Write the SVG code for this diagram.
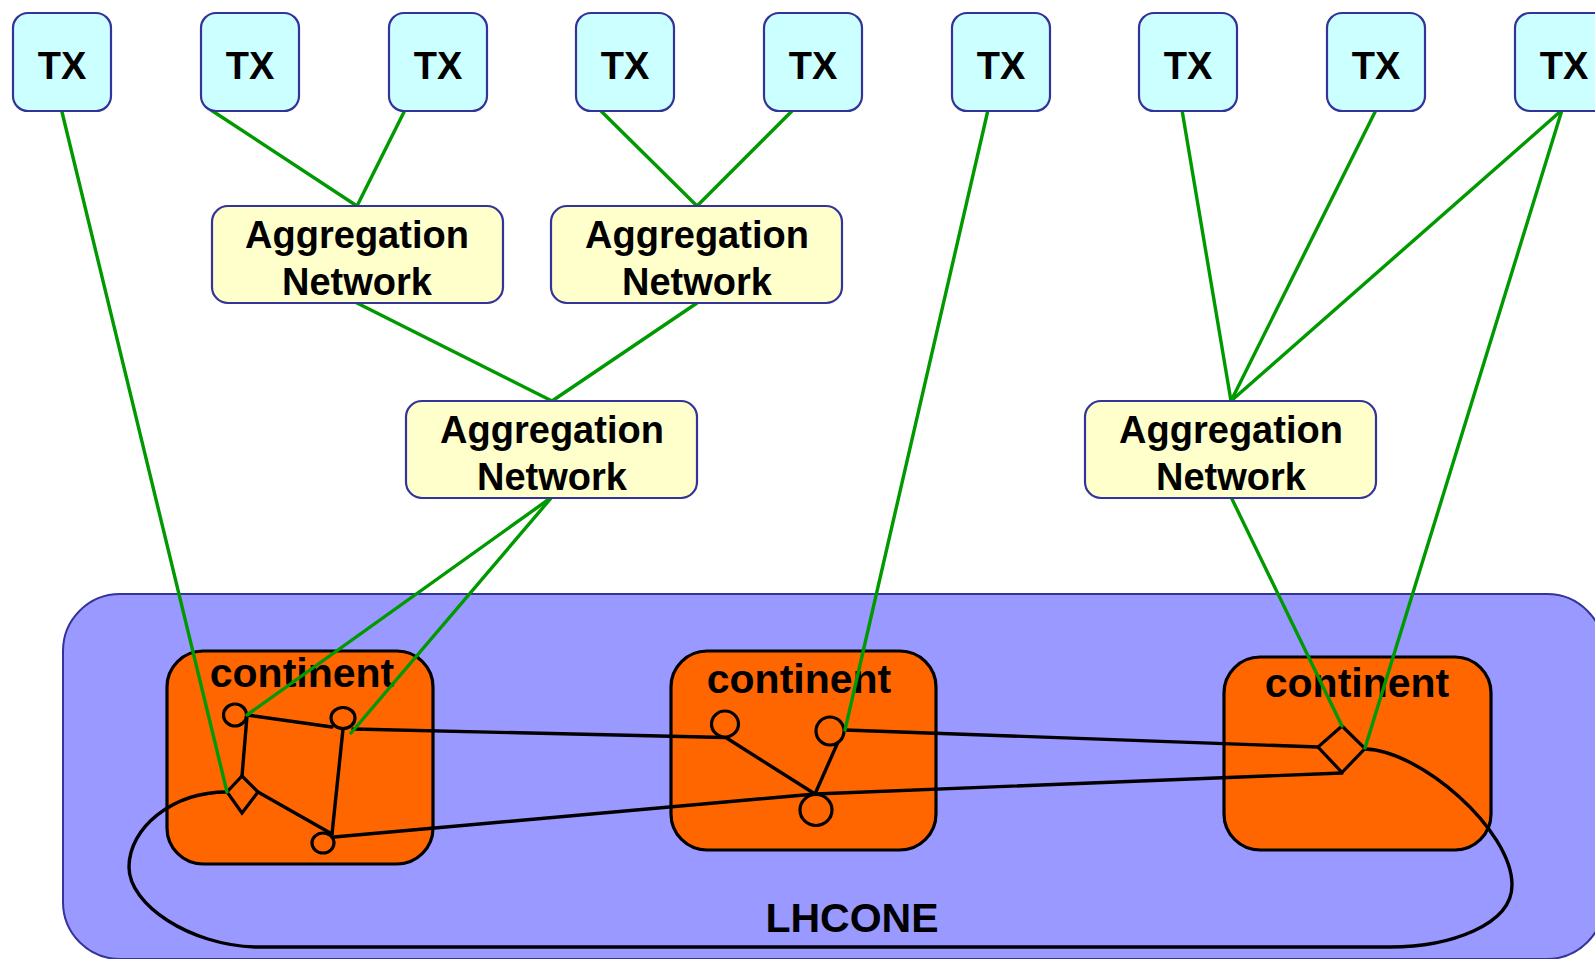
<svg xmlns="http://www.w3.org/2000/svg" width="1595" height="959" viewBox="0 0 1595 959">
<style>
.tx rect{fill:#ccffff;stroke:#333399;stroke-width:2.2}
.agg rect{fill:#ffffcc;stroke:#333399;stroke-width:2.2}
.cont rect{fill:#ff6600;stroke:#000;stroke-width:3.2}
text{font-family:"Liberation Sans",Arial,sans-serif;font-weight:bold;fill:#000;text-anchor:middle}
.tx text{font-size:38px}
.agg text{font-size:38px}
.cont text{font-size:41px}
.g line{stroke:#009900;stroke-width:3.4;stroke-linecap:round}
.k{stroke:#000;stroke-width:3.4;fill:none;stroke-linejoin:round;stroke-linecap:round}
.nd{fill:#ff6600;stroke:#000;stroke-width:3.2}
</style>
<rect id="lhcone" x="63" y="594" width="1541" height="365" rx="57" fill="#9999ff" stroke="#333399" stroke-width="2"/>
<text x="852" y="932" font-size="41">LHCONE</text>
<g id="continent1" class="cont"><rect x="167" y="651" width="266" height="213" rx="36"/><text x="302" y="687">continent</text></g>
<g id="continent2" class="cont"><rect x="671" y="651" width="265" height="199" rx="36"/><text x="799" y="693">continent</text></g>
<g id="continent3" class="cont"><rect x="1224" y="657" width="267" height="193" rx="36"/><text x="1357" y="697">continent</text></g>
<g id="links" class="k">
<line x1="247" y1="715" x2="332" y2="727"/>
<line x1="247" y1="716" x2="242" y2="776"/>
<line x1="258" y1="792" x2="332" y2="834"/>
<line x1="343" y1="729" x2="332" y2="834"/>
<line x1="353" y1="729" x2="725" y2="737.5"/>
<polyline points="334,837 815,794 1342,773"/>
<line x1="725" y1="737" x2="815" y2="794"/>
<line x1="842" y1="733" x2="815" y2="794"/>
<line x1="845" y1="730" x2="1318" y2="747"/>
<path d="M1365,749 C1420,750 1512,830 1512,885 C1512,925 1450,947 1390,947 L255,947 C190,945 129,905 129,867 C129,828 172,792 227,792"/>
</g>
<g id="routers">
<ellipse class="nd" cx="235" cy="715" rx="11.5" ry="11"/>
<ellipse class="nd" cx="343" cy="718" rx="12" ry="10.5"/>
<ellipse class="nd" cx="323" cy="843" rx="11" ry="10"/>
<polygon class="nd" points="242,776 258,792 242,813 227,792"/>
<ellipse class="nd" cx="725" cy="724" rx="13.5" ry="13"/>
<ellipse class="nd" cx="830" cy="731" rx="14" ry="14"/>
<ellipse class="nd" cx="816" cy="810" rx="16" ry="15.5"/>
<polygon class="nd" points="1342,726 1365,748.5 1342,772.5 1318,747"/>
</g>
<g id="connectors" class="g">
<line x1="62" y1="112" x2="227" y2="792"/>
<line x1="211" y1="110" x2="357" y2="206"/>
<line x1="405" y1="110" x2="357" y2="206"/>
<line x1="600" y1="110" x2="697" y2="206"/>
<line x1="793" y1="110" x2="697" y2="206"/>
<line x1="357" y1="303" x2="552" y2="401"/>
<line x1="697" y1="303" x2="552" y2="401"/>
<line x1="552" y1="497" x2="247" y2="715"/>
<line x1="552" y1="497" x2="351" y2="733"/>
<line x1="988" y1="110" x2="845" y2="730"/>
<line x1="1182" y1="110" x2="1231" y2="401"/>
<line x1="1376" y1="110" x2="1231" y2="401"/>
<line x1="1562" y1="110" x2="1231" y2="401"/>
<line x1="1562" y1="110" x2="1365" y2="748"/>
<line x1="1231" y1="497" x2="1342" y2="726"/>
</g>
<g id="tx1" class="tx"><rect x="13" y="13" width="98" height="98" rx="15"/><text x="62" y="79">TX</text></g>
<g id="tx2" class="tx"><rect x="201" y="13" width="98" height="98" rx="15"/><text x="250" y="79">TX</text></g>
<g id="tx3" class="tx"><rect x="389" y="13" width="98" height="98" rx="15"/><text x="438" y="79">TX</text></g>
<g id="tx4" class="tx"><rect x="576" y="13" width="98" height="98" rx="15"/><text x="625" y="79">TX</text></g>
<g id="tx5" class="tx"><rect x="764" y="13" width="98" height="98" rx="15"/><text x="813" y="79">TX</text></g>
<g id="tx6" class="tx"><rect x="952" y="13" width="98" height="98" rx="15"/><text x="1001" y="79">TX</text></g>
<g id="tx7" class="tx"><rect x="1139" y="13" width="98" height="98" rx="15"/><text x="1188" y="79">TX</text></g>
<g id="tx8" class="tx"><rect x="1327" y="13" width="98" height="98" rx="15"/><text x="1376" y="79">TX</text></g>
<g id="tx9" class="tx"><rect x="1515" y="13" width="98" height="98" rx="15"/><text x="1564" y="79">TX</text></g>
<g id="agg1" class="agg"><rect x="212" y="206" width="291" height="97" rx="16"/><text x="357" y="248">Aggregation</text><text x="357" y="295">Network</text></g>
<g id="agg2" class="agg"><rect x="551" y="206" width="291" height="97" rx="16"/><text x="697" y="248">Aggregation</text><text x="697" y="295">Network</text></g>
<g id="agg3" class="agg"><rect x="406" y="401" width="291" height="97" rx="16"/><text x="552" y="443">Aggregation</text><text x="552" y="490">Network</text></g>
<g id="agg4" class="agg"><rect x="1085" y="401" width="291" height="97" rx="16"/><text x="1231" y="443">Aggregation</text><text x="1231" y="490">Network</text></g>
</svg>
